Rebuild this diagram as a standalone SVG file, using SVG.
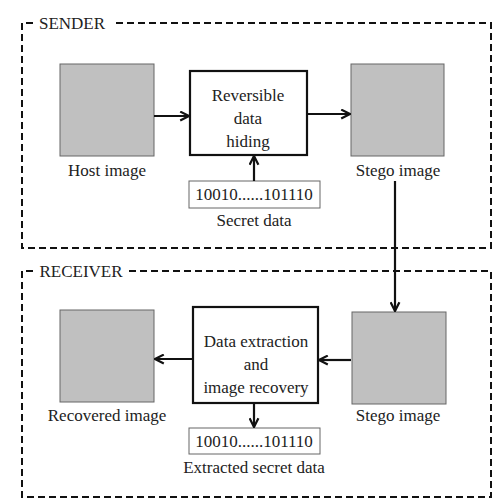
<svg xmlns="http://www.w3.org/2000/svg" width="497" height="500" viewBox="0 0 497 500">
<style>
text{font-family:'Liberation Serif','DejaVu Serif','Times New Roman',serif;font-size:17px;fill:#222;text-anchor:middle}
.frame{fill:none;stroke:#111;stroke-width:2;stroke-dasharray:7,4}
.img{fill:#c0c0c0;stroke:#666;stroke-width:1}
.proc{fill:#fff;stroke:#111;stroke-width:2.2}
.data{fill:#fff;stroke:#666;stroke-width:1}
.conn{stroke:#111;stroke-width:2.2;fill:none}
</style>
<defs>
<marker id="arr" viewBox="0 0 10 10" refX="9" refY="5" markerWidth="5" markerHeight="5" orient="auto-start-reverse">
<path d="M1,1 L9,5 L1,9" fill="none" stroke="#111" stroke-width="2"/>
</marker>
</defs>
<rect width="497" height="500" fill="#fff"/>
<g font-family="Liberation Serif, DejaVu Serif, serif" font-size="17">
<g id="sender">
<path class="frame" d="M33,23 H22 V248 H491 V23 H113"/>
<text x="72" y="29">SENDER</text>
</g>
<g id="receiver">
<path class="frame" d="M33,271 H22 V497 H491 V271 H129"/>
<text x="81" y="277">RECEIVER</text>
</g>
<g id="host">
<rect class="img" x="60" y="64" width="94" height="92"/>
<text x="107" y="176">Host image</text>
</g>
<g id="rdh">
<rect class="proc" x="190" y="71" width="117" height="84"/>
<text x="248" y="101">Reversible</text>
<text x="248" y="124">data</text>
<text x="248" y="147">hiding</text>
</g>
<g id="stego1">
<rect class="img" x="351" y="64" width="93" height="92"/>
<text x="398" y="176">Stego image</text>
</g>
<g id="secret">
<rect class="data" x="189" y="181" width="131" height="27"/>
<text x="254" y="200">10010......101110</text>
<text x="254" y="226">Secret data</text>
</g>
<g id="recovered">
<rect class="img" x="60" y="310" width="94" height="92"/>
<text x="107" y="421">Recovered image</text>
</g>
<g id="extract">
<rect class="proc" x="193" y="307" width="125" height="96"/>
<text x="256" y="347">Data extraction</text>
<text x="256" y="370">and</text>
<text x="256" y="393">image recovery</text>
</g>
<g id="stego2">
<rect class="img" x="352" y="312" width="94" height="92"/>
<text x="398" y="421">Stego image</text>
</g>
<g id="extracted">
<rect class="data" x="189" y="428" width="131" height="26"/>
<text x="254" y="447">10010......101110</text>
<text x="254" y="473">Extracted secret data</text>
</g>
</g>
<g id="connectors">
<line class="conn" x1="154" y1="116" x2="189" y2="116" marker-end="url(#arr)"/>
<line class="conn" x1="307" y1="114" x2="350" y2="114" marker-end="url(#arr)"/>
<line class="conn" x1="254" y1="181" x2="254" y2="156" marker-end="url(#arr)"/>
<line class="conn" x1="395" y1="181" x2="395" y2="311" marker-end="url(#arr)"/>
<line class="conn" x1="351" y1="360" x2="319" y2="360" marker-end="url(#arr)"/>
<line class="conn" x1="193" y1="359" x2="155" y2="359" marker-end="url(#arr)"/>
<line class="conn" x1="254" y1="403" x2="254" y2="427" marker-end="url(#arr)"/>
</g>
</svg>
